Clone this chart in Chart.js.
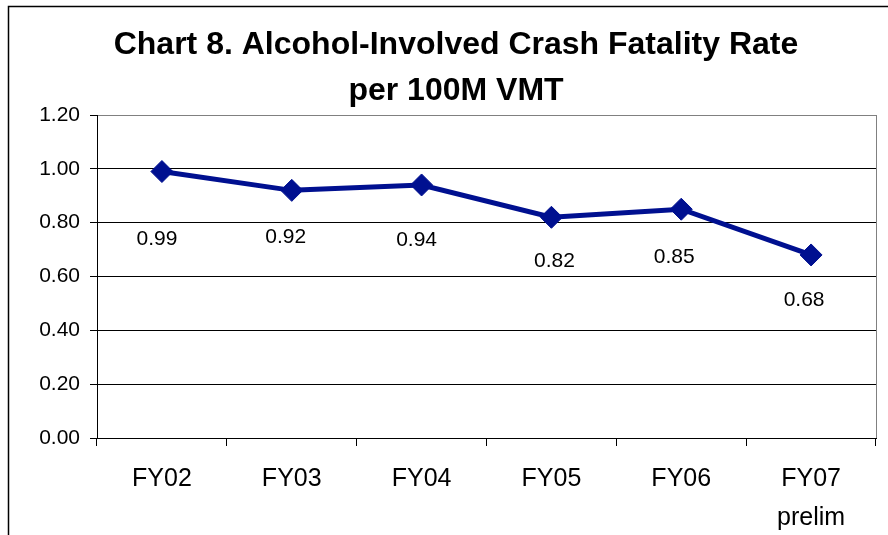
<!DOCTYPE html>
<html>
<head>
<meta charset="utf-8">
<title>Chart 8</title>
<script src="https://cdn.jsdelivr.net/npm/chart.js@4/dist/chart.umd.min.js"></script>
<style>
body { margin:0; background:#fff; }
#wrap { position:relative; width:888px; height:535px; }
</style>
</head>
<body>
<div id="wrap"><canvas id="rateChart"></canvas></div>
<script>
//----------数据----------
var categories = [["FY02"], ["FY03"], ["FY04"], ["FY05"], ["FY06"], ["FY07", "prelim"]];
var fatalityRate = [0.99, 0.92, 0.94, 0.82, 0.85, 0.68];
var yTicks = [0, 0.2, 0.4, 0.6, 0.8, 1.0, 1.2];
var titleLines = ["Chart 8. Alcohol-Involved Crash Fatality Rate", "per 100M VMT"];

// label nudges (px), labels sit below the markers like in the original
var labelDy = [68, 47, 55, 44, 48, 45];
var labelDx = [-5, -6, -5, 3, -7, -7];

var FONT = "'Liberation Sans', Arial, sans-serif";
var NAVY = "#001090";

// frame + plot area border + title
// -----------------------------------
var framePlugin = {
	id: 'frame',
	beforeDraw: function(chart){
		var ctx = chart.ctx, a = chart.chartArea;
		ctx.save();
		ctx.fillStyle = '#fff';
		ctx.fillRect(0, 0, chart.width, chart.height);
		ctx.strokeStyle = '#000';
		ctx.lineWidth = 1.5;
		ctx.strokeRect(8.5, 6.5, 1000, 1000);
		ctx.strokeStyle = '#808080';
		ctx.lineWidth = 1;
		ctx.strokeRect(Math.round(a.left) + 0.5, Math.round(a.top) + 0.5, Math.round(a.right - a.left), Math.round(a.bottom - a.top));

		// title, centred a bit right of the plot like the excel original
		ctx.fillStyle = '#000';
		ctx.font = "bold 32px " + FONT;
		ctx.textAlign = 'center';
		ctx.textBaseline = 'middle';
		titleLines.forEach(function(t, i){
			ctx.fillText(t, 456, 45 + i * 46.5);
		});
		ctx.restore();
	}
};

// value labels
// -----------------------------------
var labelPlugin = {
	id: 'valueLabels',
	afterDatasetsDraw: function(chart){
		var ctx = chart.ctx;
		var meta = chart.getDatasetMeta(0);
		ctx.save();
		ctx.font = "21px " + FONT;
		ctx.fillStyle = '#000';
		ctx.textAlign = 'center';
		ctx.textBaseline = 'middle';
		meta.data.forEach(function(pt, i){
			ctx.fillText(fatalityRate[i].toFixed(2), pt.x + labelDx[i], pt.y + labelDy[i]);
		});
		ctx.restore();
	}
};

var ctx = document.getElementById("rateChart").getContext('2d');
var myChart = new Chart(ctx, {
	type: 'line',
	data: {
		labels: categories,
		datasets: [{
			data: fatalityRate,
			borderColor: NAVY,
			backgroundColor: NAVY,
			borderWidth: 5,
			pointStyle: 'rectRot',
			pointRadius: 11,
			pointHoverRadius: 11,
			pointBorderWidth: 1,
			pointBackgroundColor: NAVY,
			pointBorderColor: NAVY,
			tension: 0,
			fill: false
		}]
	},
	options: {
		responsive: true,
		maintainAspectRatio: false,
		animation: false,
		events: [],
		layout: { padding: { left: 0, right: 10, top: 115, bottom: 0 } },
		plugins: {
			legend: { display: false },
			tooltip: { enabled: false },
			title: { display: false }
		},
		scales: {
			x: {
				offset: true,
				grid: {
					offset: true,
					drawOnChartArea: false,
					tickLength: 8,
					color: '#000',
					tickColor: '#000'
				},
				border: { display: true, color: '#000', width: 1 },
				ticks: {
					color: '#000',
					padding: 14,
					maxRotation: 0,
					autoSkip: false,
					font: { family: FONT, size: 25, lineHeight: 1.55 }
				},
				afterFit: function(scale){ scale.height = 97; }
			},
			y: {
				min: yTicks[0],
				max: yTicks[yTicks.length - 1],
				afterBuildTicks: function(scale){
					scale.ticks = yTicks.map(function(v){ return { value: v }; });
				},
				grid: {
					color: function(c){ return c.tick && c.tick.value >= 1.2 ? '#808080' : '#000'; },
					tickColor: '#000',
					tickLength: 7
				},
				border: { display: true, color: '#000', width: 1 },
				ticks: {
					color: '#000',
					padding: 10,
					font: { family: FONT, size: 21 },
					callback: function(v){ return Number(v).toFixed(2); }
				},
				afterFit: function(scale){ scale.width = 97; }
			}
		}
	},
	plugins: [framePlugin, labelPlugin]
});
</script>
</body>
</html>
